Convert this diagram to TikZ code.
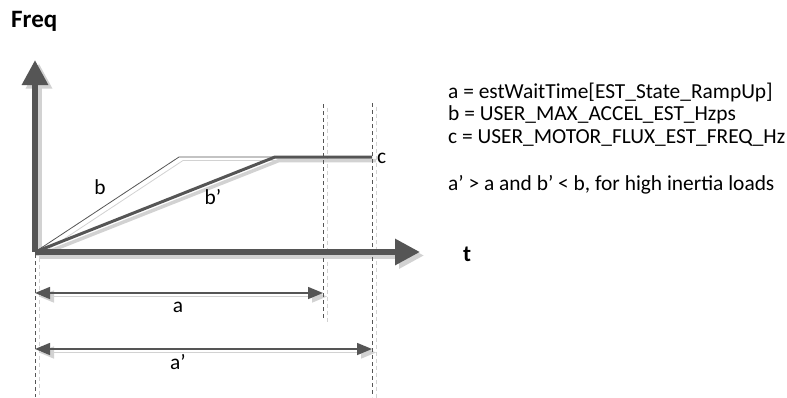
\documentclass[tikz,border=0pt]{standalone}
\usepackage{fontspec}
\setmainfont{Carlito}
\usetikzlibrary{arrows.meta}
\definecolor{dk}{HTML}{555555}
\definecolor{sh}{HTML}{D2D2D2}
\tikzset{
  lbl/.style={inner sep=0pt, font=\fontsize{21.4}{25}\selectfont},
  axis/.style={line width=6pt, -{Triangle[length=25pt,width=25pt]}},
  dim/.style={line width=1.5pt, {Triangle[length=15pt,width=12pt]}-{Triangle[length=15pt,width=12pt]}},
  guide/.style={line width=0.8pt, dash pattern=on 4pt off 3pt},
}
\begin{document}
\begin{tikzpicture}[x=1pt,y=-1pt]
\useasboundingbox (0,0) rectangle (787,397);
\fill[white] (0,0) rectangle (787,397);
% coordinates
\coordinate (O) at (35,252);
\coordinate (ytop) at (35,60);
\coordinate (xend) at (420,252);
\coordinate (bk) at (179,157);
\coordinate (bpk) at (275,157);
\coordinate (cend) at (372,157);
\coordinate (ga1) at (323,104);
\coordinate (ga2) at (323,318);
\coordinate (gb1) at (372,103);
\coordinate (gb2) at (372,397);
\coordinate (g01) at (35,254);
\coordinate (g02) at (35,397);
\coordinate (al) at (35,293);
\coordinate (ar) at (323,293);
\coordinate (apl) at (35,349);
\coordinate (apr) at (372,349);
% shadows
\begin{scope}[transform canvas={shift={(4pt,-3.5pt)}}]
  \draw[guide, sh] (ga1) -- (ga2);
  \draw[guide, sh] (gb1) -- (gb2);
  \draw[guide, sh] (g01) -- (g02);
  \draw[dim, sh] (al) -- (ar);
  \draw[dim, sh] (apl) -- (apr);
  \draw[sh, line width=0.8pt] (O) -- (bk) -- (bpk);
  \draw[sh, line width=3.5pt] (O) -- (bpk) -- (cend);
  \draw[axis, sh] (O) -- (ytop);
  \draw[axis, sh] (O) -- (xend);
\end{scope}
% main
\draw[guide, dk] (ga1) -- (ga2);
\draw[guide, dk] (gb1) -- (gb2);
\draw[guide, dk] (g01) -- (g02);
\draw[dim, dk] (al) -- (ar);
\draw[dim, dk] (apl) -- (apr);
\draw[dk, line width=0.8pt] (O) -- (bk) -- (bpk);
\draw[dk, line width=3pt, line join=round] (O) -- (bpk) -- (cend);
\draw[axis, dk] (O) -- (ytop);
\draw[axis, dk] (O) -- (xend);
% labels
\node[lbl, font=\fontsize{25}{30}\selectfont\bfseries, anchor=base west] (freq) at (11,27) {Freq};
\node[lbl, font=\fontsize{23}{28}\selectfont\bfseries] (t) at (467,254) {t};
\node[lbl] (lb) at (100,187) {b};
\node[lbl] (lbp) at (213,197) {b’};
\node[lbl, anchor=west] (lc) at (377,158) {c};
\node[lbl] (la) at (178,307) {a};
\node[lbl] (lap) at (178,362) {a’};
\node[lbl, anchor=west] (d1) at (448,92) {a = estWaitTime[EST\_State\_RampUp]};
\node[lbl, anchor=west] (d2) at (448,115) {b = USER\_MAX\_ACCEL\_EST\_Hzps};
\node[lbl, anchor=west] (d3) at (448,138) {c = USER\_MOTOR\_FLUX\_EST\_FREQ\_Hz};
\node[lbl, anchor=west] (d4) at (448,185) {a’ > a and b’ < b, for high inertia loads};
\end{tikzpicture}
\end{document}
